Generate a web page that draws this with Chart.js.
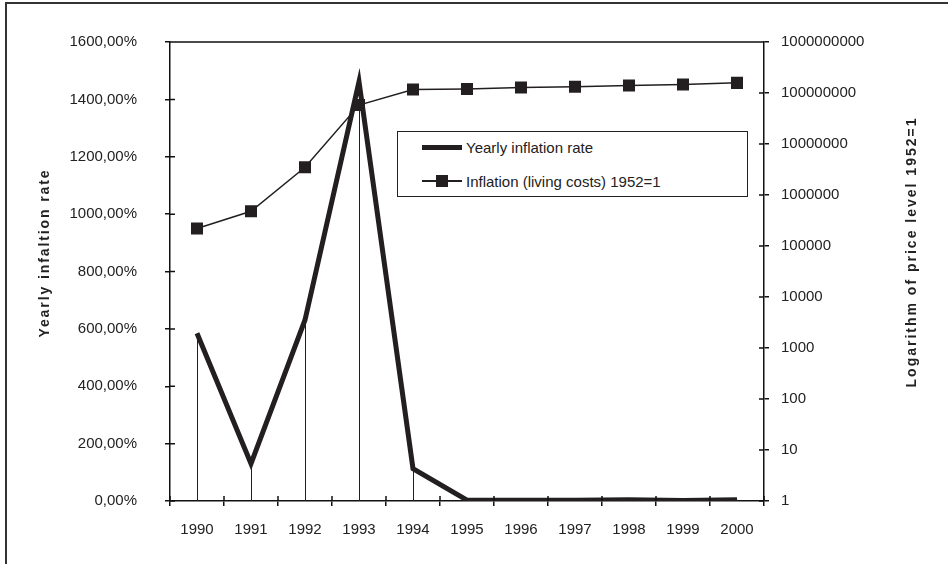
<!DOCTYPE html>
<html>
<head>
<meta charset="utf-8">
<script src="https://cdn.jsdelivr.net/npm/chart.js@4.4.1/dist/chart.umd.min.js"></script>
<style>
  html, body { margin: 0; padding: 0; background: #fff; }
  #wrap { position: relative; width: 948px; height: 564px; overflow: hidden; }
  #legend {
    position: absolute; left: 397px; top: 131px; width: 349px; height: 64px;
    border: 1px solid #222; background: #fff;
    font: 15px "Liberation Sans", Arial, sans-serif; color: #222;
  }
  .item { position: absolute; left: 24px; height: 20px; display: flex; align-items: center; white-space: nowrap; }
  .swatch { position: relative; width: 40px; height: 20px; margin-right: 4px; }
  .swatch .ln { position: absolute; left: 0; right: 0; top: 50%; background: #231f20; }
  .swatch .sq { position: absolute; left: 14px; top: 4px; width: 12px; height: 12px; background: #231f20; }
</style>
</head>
<body>
<div id="wrap">
  <canvas id="c" width="948" height="564"></canvas>
  <div id="legend"></div>
</div>
<script>
// data
const years = ["1990", "1991", "1992", "1993", "1994", "1995", "1996", "1997", "1998", "1999", "2000"];
const yearlyRate = [585, 130, 631, 1462, 113, 3, 3, 3, 4, 2, 4];           // % per year
const priceLevel = [220000, 480000, 3500000, 58000000, 117000000, 120000000,
                    128000000, 132000000, 140000000, 147000000, 158000000]; // 1952 = 1
const rightTicks = [1, 10, 100, 1000, 10000, 100000, 1000000, 10000000, 100000000, 1000000000];

const rateLabel = "Yearly inflation rate";
const priceLabel = "Inflation (living costs) 1952=1";
const leftTitle = "Yearly infaltion rate";
const rightTitle = "Logarithm of price level 1952=1";

const INK = "#231f20";
const FONT = '"Liberation Sans", Arial, sans-serif';

// legend as html, built from the labels
const legend = document.getElementById("legend");
legend.innerHTML =
  `<div class="item" style="top:5px"><span class="swatch"><span class="ln" style="height:5px;margin-top:-2.5px"></span></span>${rateLabel}</div>` +
  `<div class="item" style="top:39px"><span class="swatch"><span class="ln" style="height:1.5px;margin-top:-0.75px"></span><span class="sq"></span></span>${priceLabel}</div>`;

// frame, drop lines, inner tick halves, rotated titles
const decor = {
  id: "decor",
  beforeDraw(chart) {
    const ctx = chart.ctx;
    ctx.save();
    ctx.strokeStyle = "#333";
    ctx.lineWidth = 2;
    ctx.strokeRect(6, 3, 1200, 1200);
    ctx.restore();
  },
  beforeDatasetsDraw(chart) {
    const ctx = chart.ctx;
    const bottom = chart.chartArea.bottom;
    ctx.save();
    ctx.strokeStyle = INK;
    ctx.lineWidth = 1;
    for (const p of chart.getDatasetMeta(0).data) {
      ctx.beginPath();
      ctx.moveTo(Math.round(p.x) + 0.5, p.y);
      ctx.lineTo(Math.round(p.x) + 0.5, bottom);
      ctx.stroke();
    }
    ctx.restore();
  },
  afterDraw(chart) {
    const ctx = chart.ctx;
    const { left, right, top, bottom } = chart.chartArea;
    const x = chart.scales.x, yl = chart.scales.y, yr = chart.scales.y2;
    ctx.save();
    ctx.strokeStyle = "#111";
    ctx.lineWidth = 1.5;
    ctx.beginPath();
    ctx.moveTo(left, top);
    ctx.lineTo(right, top);
    // inner half of the tick marks
    for (const t of yl.ticks) {
      const py = yl.getPixelForValue(t.value);
      ctx.moveTo(left, py); ctx.lineTo(left + 5, py);
    }
    for (const t of yr.ticks) {
      const py = yr.getPixelForValue(t.value);
      ctx.moveTo(right - 5, py); ctx.lineTo(right, py);
    }
    for (let i = 0; i <= years.length; i++) {
      const px = x.getPixelForValue(i - 0.5);
      ctx.moveTo(px, bottom - 5); ctx.lineTo(px, bottom);
    }
    ctx.stroke();

    ctx.fillStyle = "#222";
    ctx.font = "bold 14px " + FONT;
    ctx.letterSpacing = "1.9px";
    ctx.textAlign = "center";
    ctx.textBaseline = "middle";
    ctx.translate(45, 253);
    ctx.rotate(-Math.PI / 2);
    ctx.fillText(leftTitle, 0, 0);
    ctx.setTransform(1, 0, 0, 1, 0, 0);
    ctx.letterSpacing = "2px";
    ctx.translate(912, 252);
    ctx.rotate(-Math.PI / 2);
    ctx.fillText(rightTitle, 0, 0);
    ctx.restore();
  }
};

const tickFont = { family: FONT, size: 15 };
const axisBorder = { display: true, color: "#111", width: 1.5 };

new Chart(document.getElementById("c"), {
  type: "line",
  data: {
    labels: years,
    datasets: [
      {
        label: rateLabel,
        data: yearlyRate,
        yAxisID: "y",
        borderColor: INK,
        borderWidth: 5,
        borderJoinStyle: "miter",
        pointRadius: 0,
        tension: 0,
      },
      {
        label: priceLabel,
        data: priceLevel,
        yAxisID: "y2",
        borderColor: INK,
        borderWidth: 1.5,
        pointStyle: "rect",
        pointRadius: 8.5,
        pointBackgroundColor: INK,
        pointBorderColor: INK,
        pointBorderWidth: 0,
        tension: 0,
      },
    ],
  },
  options: {
    responsive: false,
    animation: false,
    layout: { padding: { top: 42, left: 0, right: 0, bottom: 0 } },
    plugins: { legend: { display: false }, tooltip: { enabled: false } },
    scales: {
      x: {
        offset: true,
        grid: { display: true, offset: true, drawOnChartArea: false, tickLength: 5, color: "#111", lineWidth: 1.5 },
        border: axisBorder,
        ticks: { font: tickFont, color: "#222", padding: 15, maxRotation: 0 },
        afterFit: (s) => { s.height = 63; },
      },
      y: {
        position: "left",
        min: 0,
        max: 1600,
        grid: { drawOnChartArea: false, tickLength: 5, color: "#111", lineWidth: 1.5 },
        border: axisBorder,
        ticks: {
          stepSize: 200,
          font: tickFont,
          color: "#222",
          padding: 28,
          callback: (v) => v.toFixed(2).replace(".", ",") + "%",
        },
        afterFit: (s) => { s.width = 170; },
      },
      y2: {
        type: "logarithmic",
        position: "right",
        min: 1,
        max: 1000000000,
        grid: { drawOnChartArea: false, tickLength: 5, color: "#111", lineWidth: 1.5 },
        border: axisBorder,
        ticks: { font: tickFont, color: "#222", padding: 12, callback: (v) => String(v) },
        afterBuildTicks: (s) => { s.ticks = rightTicks.map((v) => ({ value: v })); },
        afterFit: (s) => { s.width = 184; },
      },
    },
  },
  plugins: [decor],
});
</script>
</body>
</html>
